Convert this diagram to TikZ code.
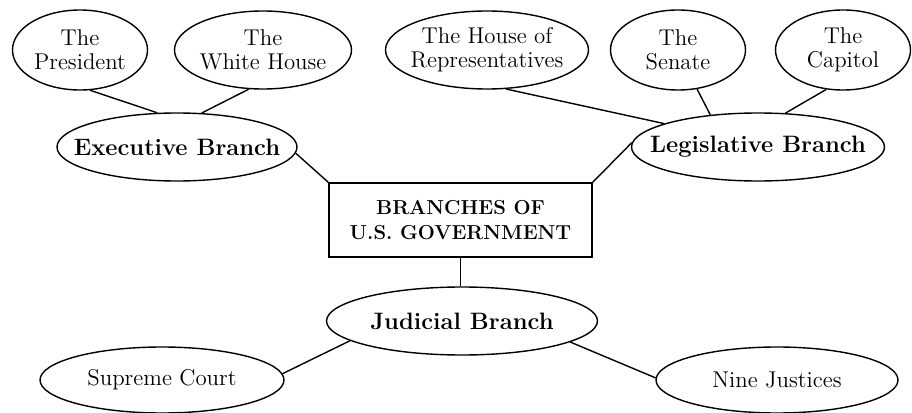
\documentclass[tikz,border=0pt]{standalone}
\usetikzlibrary{shapes.geometric}
\begin{document}
\begin{tikzpicture}[line width=0.8pt,
    leaf/.style={draw,ellipse,inner xsep=-0.5cm,inner ysep=0pt,align=center,font=\fontsize{13}{13.5}\selectfont},
    branch/.style={leaf,minimum height=1.36cm,font=\fontsize{13.5}{14}\selectfont\bfseries}]
  \useasboundingbox (0,0) rectangle (18.24,-8.26);

  \node (gov) at (9.21,-4.4) [draw,minimum width=5.26cm,minimum height=1.48cm,align=center,font=\fontsize{11.5}{14}\selectfont\bfseries]{BRANCHES OF\\U.S. GOVERNMENT};

  \node (exec) at (3.54,-2.94) [branch,minimum width=4.8cm]{Executive Branch};
  \node (leg) at (15.16,-2.94) [branch,minimum width=5.06cm]{Legislative Branch};
  \node (jud) at (9.24,-6.42) [branch,minimum width=5.42cm]{Judicial Branch};

  \node (pres) at (1.6,-1.0) [leaf,minimum width=2.7cm,minimum height=1.6cm]{The\\President};
  \node (wh) at (5.26,-1.0) [leaf,minimum width=3.54cm,minimum height=1.56cm]{The\\White House};
  \node (hor) at (9.74,-1.0) [leaf,minimum width=4.06cm,minimum height=1.56cm]{The House of\\Representatives};
  \node (sen) at (13.56,-1.0) [leaf,minimum width=2.7cm,minimum height=1.6cm]{The\\Senate};
  \node (cap) at (16.86,-1.0) [leaf,minimum width=2.7cm,minimum height=1.6cm]{The\\Capitol};

  \node (sup) at (3.24,-7.6) [leaf,minimum width=4.88cm,minimum height=1.32cm]{Supreme Court};
  \node (nine) at (15.54,-7.6) [leaf,minimum width=4.84cm,minimum height=1.32cm]{Nine Justices};


  \draw (exec.-3) -- (gov.north west);
  \draw (leg.178) -- (gov.north east);
  \draw (gov.south) -- (gov.south |- jud.north);

  \draw (pres.-76) -- (exec.120);
  \draw (wh.-110) -- (exec.54);

  \draw (hor.-64) -- (leg.166);
  \draw (sen.-64) -- (leg.146);
  \draw (cap.-113) -- (leg.51);

  \draw (jud.-170) -- (sup.3);
  \draw (jud.-11) -- (nine.179);

\end{tikzpicture}
\end{document}
